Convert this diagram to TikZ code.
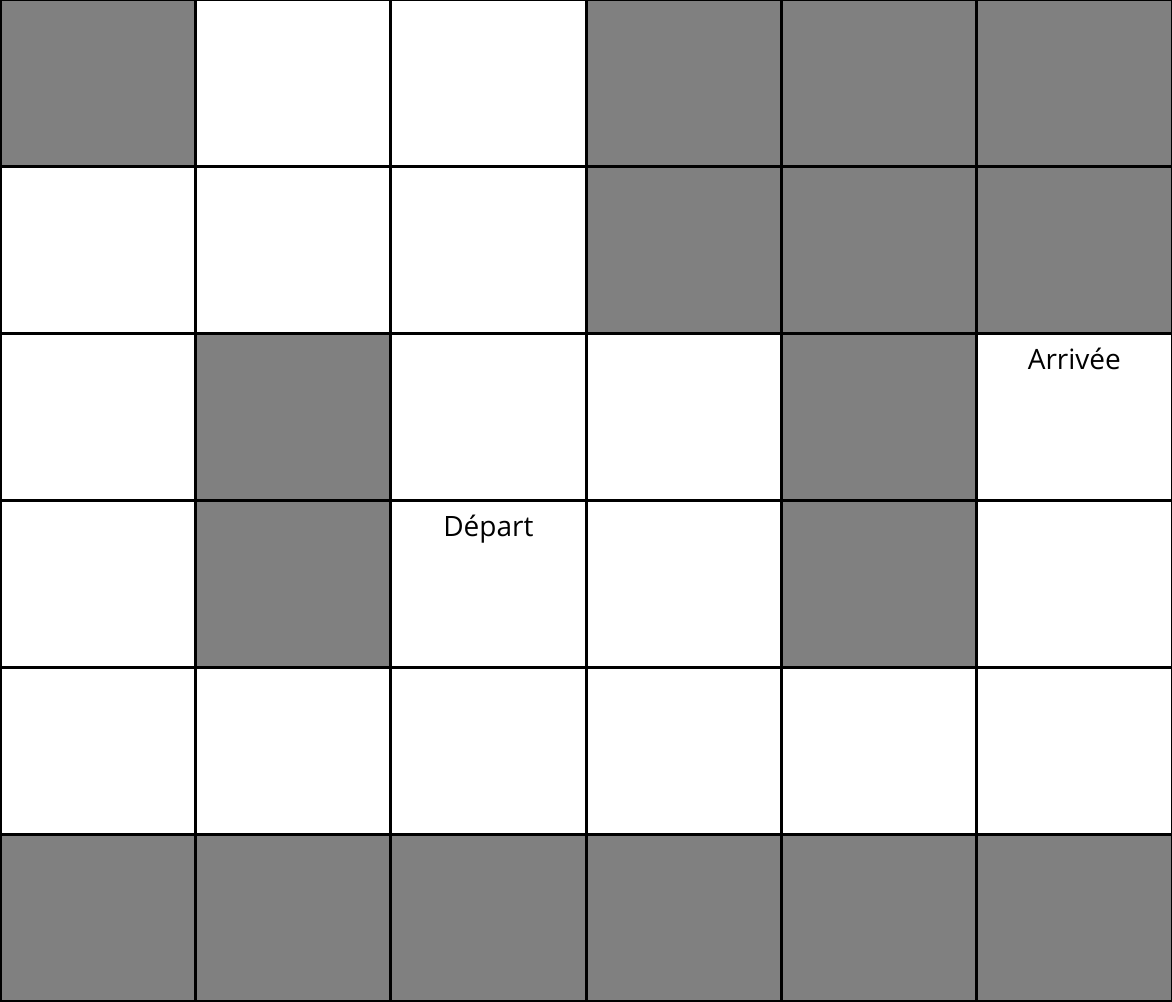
\documentclass[tikz,border=0pt]{standalone}
\usepackage{fontspec}
\setmainfont{Open Sans}
\definecolor{WallGray}{HTML}{808080}
\usetikzlibrary{positioning}
\tikzset{
  cell/.style={draw=black, fill=white, line width=1.5pt, minimum width=97.667pt, minimum height=83.417pt, inner sep=0pt, outer sep=0pt},
  wall/.style={cell, fill=WallGray},
  tag/.style={font=\fontsize{14}{16}\selectfont, anchor=base}
}
\begin{document}
\begin{tikzpicture}[x=97.667pt, y=-83.417pt]
    \useasboundingbox (0,0) rectangle (6,6);
    % open cells
    \foreach \r in {0,...,5}
      \foreach \c in {0,...,5}
        \node[cell] (c-\r-\c) at (\c+0.5,\r+0.5) {};
    % walls
    \foreach \r/\c in {0/0,0/3,0/4,0/5,1/3,1/4,1/5,2/1,2/4,3/1,3/4,5/0,5/1,5/2,5/3,5/4,5/5}
      \node[wall] (w-\r-\c) at (c-\r-\c) {};

    \node[tag] (depart) at ([yshift=-18pt]c-3-2.north) {Départ};
    \node[tag] (arrivee) at ([yshift=-18pt]c-2-5.north) {Arrivée};
  \end{tikzpicture}
\end{document}
